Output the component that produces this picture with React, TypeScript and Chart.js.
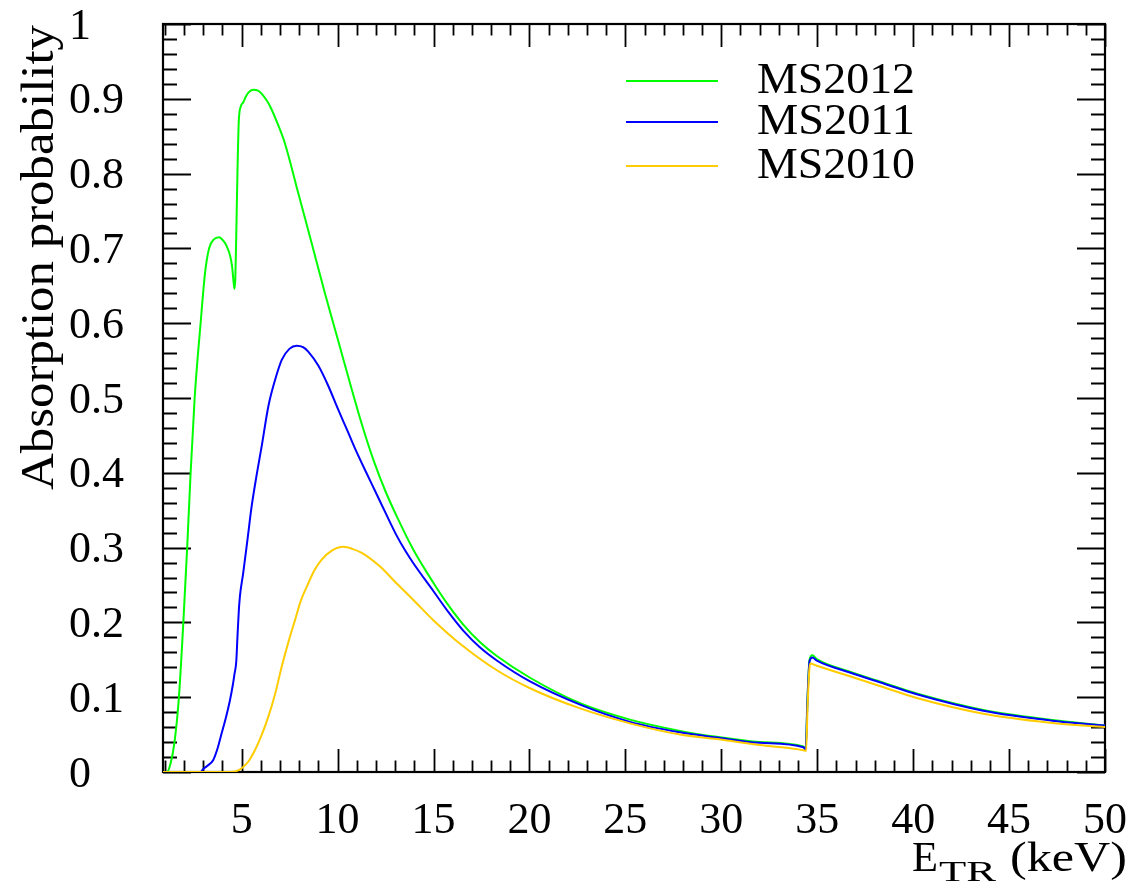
import React, { useEffect, useRef } from "react";
import { Chart, registerables } from "chart.js";

Chart.register(...registerables);

// ---------- data ----------
const ms2012E = [0.9, 1.1, 1.3, 1.5, 1.73, 1.96, 2.16, 2.34, 2.55, 2.86, 3.09, 3.3, 3.55, 3.83, 4.05, 4.22, 4.4, 4.5, 4.58, 4.63, 4.67, 4.72, 4.78, 4.85, 4.96, 5.08, 5.2, 5.34, 5.6, 5.85, 6.04, 6.3, 6.48, 6.9, 7.26, 7.95, 8.65, 9.34, 10.04, 10.7, 11.3, 11.9, 12.5, 13.08, 13.95, 14.99, 15.8, 16.55, 17.4, 18.3, 20.03, 22.64, 25.24, 27.85, 29.77, 32, 34.28, 34.4, 34.49, 34.6, 34.75, 34.98, 36.7, 38.5, 40.19, 43.66, 47.14, 50];
const ms2012P = [0, 0, 0.012, 0.04, 0.1, 0.2, 0.3, 0.4, 0.5, 0.6, 0.667, 0.7, 0.712, 0.715, 0.71, 0.703, 0.69, 0.676, 0.655, 0.646, 0.66, 0.72, 0.8, 0.87, 0.89, 0.895, 0.902, 0.908, 0.912, 0.911, 0.907, 0.898, 0.89, 0.865, 0.84, 0.774, 0.707, 0.64, 0.576, 0.515, 0.462, 0.415, 0.375, 0.342, 0.297, 0.253, 0.222, 0.197, 0.174, 0.155, 0.126, 0.092, 0.07, 0.055, 0.047, 0.04, 0.034, 0.031, 0.096, 0.15, 0.156, 0.151, 0.134, 0.119, 0.105, 0.083, 0.07, 0.062];

const ms2011E = [0.9, 2.85, 3.0, 3.2, 3.52, 3.75, 3.96, 4.2, 4.39, 4.55, 4.62, 4.72, 4.78, 4.85, 4.91, 5.08, 5.3, 5.52, 5.8, 6.04, 6.4, 6.74, 7.09, 7.5, 7.87, 8.2, 8.47, 9.0, 9.5, 10.04, 10.5, 10.9, 11.5, 11.95, 12.6, 13.08, 13.5, 13.95, 14.99, 15.8, 16.55, 17.4, 18.3, 20.03, 22.64, 25.24, 27.85, 29.77, 32, 34.28, 34.4, 34.49, 34.6, 34.75, 34.98, 36.7, 38.5, 40.19, 43.66, 47.14, 50];
const ms2011P = [0, 0, 0.004, 0.008, 0.016, 0.032, 0.052, 0.075, 0.096, 0.118, 0.13, 0.148, 0.18, 0.215, 0.235, 0.266, 0.31, 0.355, 0.4, 0.435, 0.49, 0.524, 0.551, 0.566, 0.57, 0.568, 0.562, 0.543, 0.517, 0.484, 0.457, 0.433, 0.4, 0.376, 0.341, 0.316, 0.297, 0.279, 0.242, 0.213, 0.189, 0.167, 0.149, 0.121, 0.09, 0.067, 0.053, 0.046, 0.039, 0.033, 0.03, 0.095, 0.148, 0.153, 0.149, 0.133, 0.118, 0.104, 0.082, 0.069, 0.062];

const ms2010E = [0.9, 4.4, 4.7, 5.0, 5.35, 5.69, 6.05, 6.39, 6.75, 7.09, 7.45, 7.78, 8.1, 8.47, 8.8, 9.17, 9.7, 10.3, 10.8, 11.26, 12.2, 13.08, 13.95, 14.99, 16.55, 18.3, 20.03, 22.64, 25.24, 27.85, 29.77, 32, 34.28, 34.42, 34.5, 34.63, 34.98, 36.7, 38.5, 40.19, 43.66, 47.14, 50];
const ms2010P = [0, 0, 0.001, 0.005, 0.014, 0.029, 0.05, 0.074, 0.105, 0.141, 0.175, 0.203, 0.23, 0.252, 0.27, 0.284, 0.296, 0.301, 0.298, 0.293, 0.275, 0.252, 0.23, 0.203, 0.168, 0.136, 0.112, 0.085, 0.065, 0.05, 0.044, 0.036, 0.029, 0.028, 0.09, 0.145, 0.142, 0.128, 0.113, 0.099, 0.078, 0.066, 0.06];

const seriesNames = ["MS2012", "MS2011", "MS2010"];
const seriesColors = ["#00ff00", "#0000ff", "#ffcc00"];

const xMajorTicks = [5, 10, 15, 20, 25, 30, 35, 40, 45, 50];
const xTickLabels = ["5", "10", "15", "20", "25", "30", "35", "40", "45", "50"];
const yMajorTicks = [0, 0.1, 0.2, 0.3, 0.4, 0.5, 0.6, 0.7, 0.8, 0.9, 1];
const yTickLabels = ["0", "0.1", "0.2", "0.3", "0.4", "0.5", "0.6", "0.7", "0.8", "0.9", "1"];
const xMinorStep = 1;
const yMinorStep = 0.02;
const xMin = 0.9;
const xMax = 50;
const yMin = 0;
const yMax = 1;

const yTitle = "Absorption probability";
const xTitleMain = "E";
const xTitleSub = "TR";
const xTitleUnit = "(keV)";

const FONT = '"Liberation Serif", "Times New Roman", serif';

function toPoints(xs: number[], ys: number[]) {
  return xs.map((x, i) => ({ x, y: ys[i] }));
}

function fitText(
  ctx: CanvasRenderingContext2D,
  text: string,
  x: number,
  y: number,
  width: number
) {
  const w = ctx.measureText(text).width;
  ctx.save();
  ctx.translate(x, y);
  ctx.scale(width / w, 1);
  ctx.textAlign = "left";
  ctx.fillText(text, 0, 0);
  ctx.restore();
}

const rootFrame = {
  id: "rootFrame",
  beforeDatasetsDraw(chart: any) {
    const ctx: CanvasRenderingContext2D = chart.ctx;
    const { left, right, top, bottom } = chart.chartArea;
    const xs = chart.scales.x;
    const ys = chart.scales.y;
    ctx.save();
    ctx.strokeStyle = "#000";
    ctx.lineWidth = 1.8;
    ctx.lineCap = "butt";
    // x ticks (bottom and top)
    for (let v = Math.ceil(xMin); v <= xMax + 1e-9; v += xMinorStep) {
      const major = xMajorTicks.some((m) => Math.abs(m - v) < 1e-6);
      const len = major ? 23 : 11.5;
      const px = Math.round(xs.getPixelForValue(v)) + 0.5;
      ctx.beginPath();
      ctx.moveTo(px, bottom);
      ctx.lineTo(px, bottom - len);
      ctx.moveTo(px, top);
      ctx.lineTo(px, top + len);
      ctx.stroke();
    }
    // y ticks (left and right)
    const nY = Math.round((yMax - yMin) / yMinorStep);
    for (let i = 0; i <= nY; i++) {
      const v = yMin + i * yMinorStep;
      const major = i % 5 === 0;
      const len = major ? 28 : 14;
      const py = Math.round(ys.getPixelForValue(v)) + 0.5;
      ctx.beginPath();
      ctx.moveTo(left, py);
      ctx.lineTo(left + len, py);
      ctx.moveTo(right, py);
      ctx.lineTo(right - len, py);
      ctx.stroke();
    }
    // frame
    ctx.lineWidth = 2.2;
    ctx.strokeRect(left, top, right - left, bottom - top);

    // tick labels
    ctx.fillStyle = "#000";
    ctx.font = `44px ${FONT}`;
    ctx.textBaseline = "alphabetic";
    ctx.textAlign = "center";
    xMajorTicks.forEach((v, i) => {
      ctx.fillText(xTickLabels[i], xs.getPixelForValue(v), bottom + 61);
    });
    ctx.textAlign = "left";
    yMajorTicks.forEach((v, i) => {
      ctx.fillText(yTickLabels[i], 69, ys.getPixelForValue(v) + 14.5);
    });

    // y title (rotated, aligned to top)
    ctx.save();
    ctx.font = `46px ${FONT}`;
    ctx.translate(53, top + 1);
    ctx.rotate(-Math.PI / 2);
    const tw = ctx.measureText(yTitle).width;
    ctx.scale(465 / tw, 1);
    ctx.textAlign = "right";
    ctx.fillText(yTitle, 0, 0);
    ctx.restore();

    // x title
    ctx.font = `42px ${FONT}`;
    fitText(ctx, xTitleMain, 912, 871, 26);
    ctx.font = `30px ${FONT}`;
    fitText(ctx, xTitleSub, 939, 881, 57);
    ctx.font = `42px ${FONT}`;
    fitText(ctx, xTitleUnit, 1010, 871, 117);

    // legend
    const legY = [81, 122, 166];
    ctx.font = `45px ${FONT}`;
    seriesNames.forEach((name, i) => {
      ctx.strokeStyle = seriesColors[i];
      ctx.lineWidth = 2;
      ctx.beginPath();
      ctx.moveTo(626, legY[i]);
      ctx.lineTo(718, legY[i]);
      ctx.stroke();
      fitText(ctx, name, 757, legY[i] + 12, 158);
    });
    ctx.restore();
  },
};

export default function App() {
  const ref = useRef<HTMLCanvasElement | null>(null);
  useEffect(() => {
    document.body.style.margin = "0";
    const canvas = ref.current;
    if (!canvas) return;
    const chart = new Chart(canvas, {
      type: "scatter",
      data: {
        datasets: [
          {
            label: seriesNames[0],
            data: toPoints(ms2012E, ms2012P),
            borderColor: seriesColors[0],
            order: 2,
          },
          {
            label: seriesNames[1],
            data: toPoints(ms2011E, ms2011P),
            borderColor: seriesColors[1],
            order: 1,
          },
          {
            label: seriesNames[2],
            data: toPoints(ms2010E, ms2010P),
            borderColor: seriesColors[2],
            order: 0,
          },
        ].map((d) => ({
          ...d,
          showLine: true,
          borderWidth: 2,
          pointRadius: 0,
          pointHoverRadius: 0,
          cubicInterpolationMode: "monotone" as const,
          fill: false,
        })),
      },
      options: {
        responsive: false,
        animation: false,
        events: [],
        layout: { padding: { left: 163, right: 43, top: 24, bottom: 113 } },
        plugins: {
          legend: { display: false },
          tooltip: { enabled: false },
          title: { display: false },
        },
        scales: {
          x: { type: "linear", min: xMin, max: xMax, display: false },
          y: { type: "linear", min: yMin, max: yMax, display: false },
        },
      },
      plugins: [rootFrame],
    });
    return () => chart.destroy();
  }, []);
  return (
    <canvas
      ref={ref}
      width={1148}
      height={885}
      style={{ display: "block", background: "#fff" }}
    />
  );
}
